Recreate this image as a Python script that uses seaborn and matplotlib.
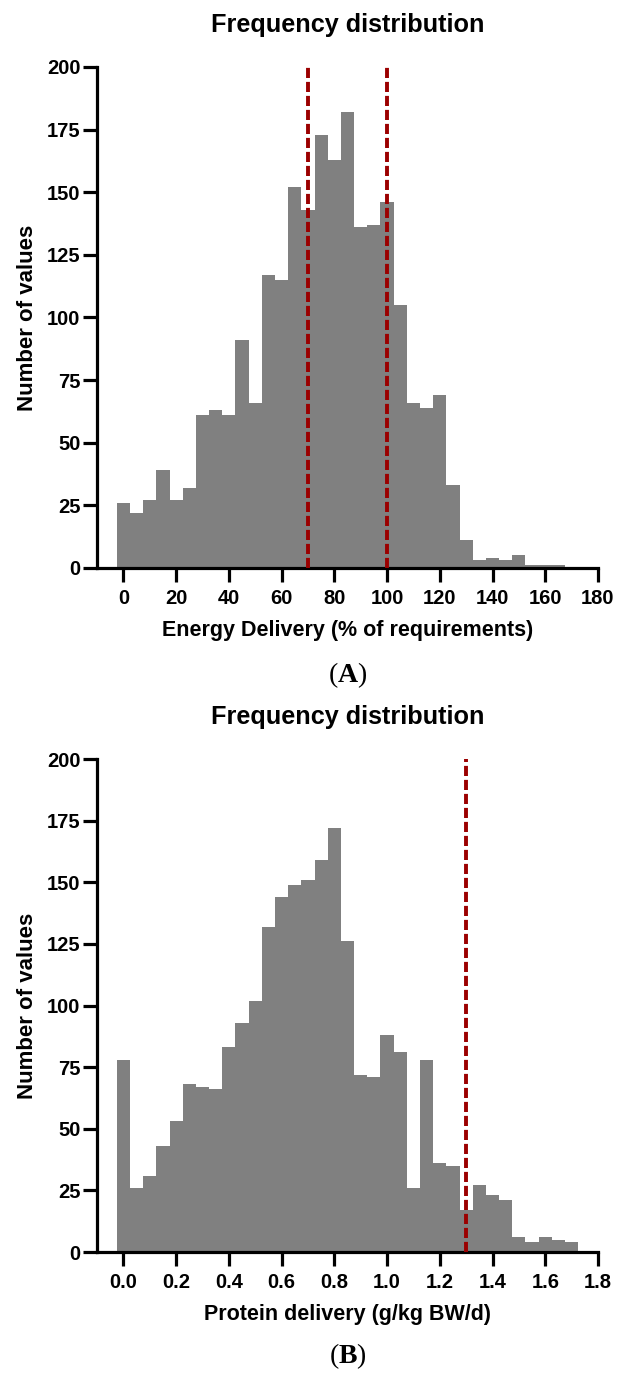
import numpy as np
import pandas as pd
import matplotlib
matplotlib.use("Agg")
import matplotlib.pyplot as plt
import seaborn as sns

# Panel A: energy delivery (% of requirements), bin width 5
energy_bins = [0, 5, 10, 15, 20, 25, 30, 35, 40, 45, 50, 55, 60, 65, 70, 75, 80, 85,
               90, 95, 100, 105, 110, 115, 120, 125, 130, 135, 140, 145, 150, 155, 160, 165]
energy_counts = [26, 22, 27, 39, 27, 32, 61, 63, 61, 91, 66, 117, 115, 152, 143, 173, 163, 182,
                 136, 137, 146, 105, 66, 64, 69, 33, 11, 3, 4, 3, 5, 1, 1, 1]
energy_lines = [70, 100]

# Panel B: protein delivery (g/kg BW/d), bin width 0.05
protein_bins = [0.00, 0.05, 0.10, 0.15, 0.20, 0.25, 0.30, 0.35, 0.40, 0.45, 0.50, 0.55,
                0.60, 0.65, 0.70, 0.75, 0.80, 0.85, 0.90, 0.95, 1.00, 1.05, 1.10, 1.15,
                1.20, 1.25, 1.30, 1.35, 1.40, 1.45, 1.50, 1.55, 1.60, 1.65, 1.70]
protein_counts = [78, 26, 31, 43, 53, 68, 67, 66, 83, 93, 102, 132,
                  144, 149, 151, 159, 172, 126, 72, 71, 88, 81, 26, 78,
                  36, 35, 17, 27, 23, 21, 6, 4, 6, 5, 4]
protein_lines = [1.3]

sns.set_theme(style="ticks")
plt.rcParams['font.family'] = ['Liberation Sans', 'DejaVu Sans']
plt.rcParams['font.weight'] = 'bold'
plt.rcParams['text.color'] = 'black'
plt.rcParams['axes.labelcolor'] = 'black'
plt.rcParams['xtick.color'] = 'black'
plt.rcParams['ytick.color'] = 'black'
plt.rcParams['mathtext.fontset'] = 'custom'
plt.rcParams['mathtext.bf'] = 'Liberation Serif:bold'
plt.rcParams['mathtext.rm'] = 'Liberation Serif'

fig = plt.figure(figsize=(6.17, 13.8), dpi=100)
ax_a = fig.add_axes([97 / 617, 1 - 568 / 1380, 501 / 617, 501 / 1380])
ax_b = fig.add_axes([97 / 617, 1 - 1252 / 1380, 501 / 617, 493 / 1380])


def draw_panel(ax, centers, counts, width, lines, xlim, xticks, xticklabels, xlabel):
    df = pd.DataFrame({'value': centers, 'count': counts})
    edges = [c - width / 2 for c in centers] + [centers[-1] + width / 2]
    sns.histplot(data=df, x='value', weights='count', bins=edges, ax=ax, color='#808080',
                 alpha=1, edgecolor='none', linewidth=0)
    for v in lines:
        ax.axvline(v, ymin=0, ymax=1, color='#9b0000', lw=2.8, dashes=(2.6, 1.0), zorder=3)
    ax.set_xlim(*xlim)
    ax.set_ylim(0, 200)
    ax.set_yticks(range(0, 201, 25))
    ax.set_xticks(xticks)
    ax.set_xticklabels(xticklabels)
    ax.set_title('Frequency distribution', fontsize=18.2, fontweight='bold', pad=25)
    ax.set_xlabel(xlabel, fontsize=15.5, fontweight='bold', labelpad=9)
    ax.set_ylabel('Number of values', fontsize=16, fontweight='bold', labelpad=6)
    sns.despine(ax=ax)
    for s in ['left', 'bottom']:
        ax.spines[s].set_linewidth(2.3)
        ax.spines[s].set_color('black')
    ax.tick_params(axis='both', length=10, width=2.3, color='black',
                   labelsize=14.5, pad=2)
    ax.tick_params(axis='x', pad=5)
    for lab in ax.get_xticklabels() + ax.get_yticklabels():
        lab.set_fontweight('bold')


draw_panel(ax_a, energy_bins, energy_counts, 5, energy_lines, (-10, 180),
           list(range(0, 181, 20)), [str(t) for t in range(0, 181, 20)],
           'Energy Delivery (% of requirements)')
draw_panel(ax_b, protein_bins, protein_counts, 0.05, protein_lines, (-0.1, 1.8),
           [i * 0.2 for i in range(10)], ['%.1f' % (i * 0.2) for i in range(10)],
           'Protein delivery (g/kg BW/d)')

fig.text(347.5 / 617, 1 - 675 / 1380, r'(' + r'$\mathbf{A}$' + ')', ha='center', va='center',
         fontsize=20, family='Liberation Serif', fontweight='normal')
fig.text(347.5 / 617, 1 - 1356 / 1380, r'(' + r'$\mathbf{B}$' + ')', ha='center', va='center',
         fontsize=20, family='Liberation Serif', fontweight='normal')

fig.savefig('out.png', dpi=100)
